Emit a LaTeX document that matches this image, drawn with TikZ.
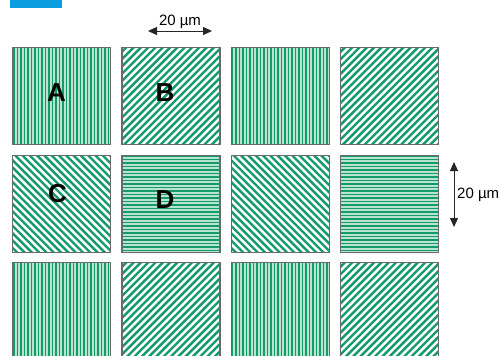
\documentclass[tikz,border=0pt]{standalone}
\usepackage{fontspec}
\setmainfont{Liberation Sans}
\usetikzlibrary{positioning,arrows.meta,calc}
\definecolor{barBlue}{HTML}{0A9EE0}
\definecolor{stripeGreen}{HTML}{139B6B}
\definecolor{paleGreen}{HTML}{B8E4CF}
\definecolor{edgeGray}{HTML}{6A6A6A}
\tikzset{
  tile/.style={rectangle, draw=edgeGray, line width=1.2pt, minimum width=98pt,
               minimum height=97pt, inner sep=0pt, anchor=north west},
  stripe/.style={draw=stripeGreen, line width=1.5pt},
  slant/.style={draw=stripeGreen, line width=2.4pt},
  vstripes/.style={tile, fill=paleGreen, path picture={
      \foreach \i in {1.5,5,...,100}
        \draw[stripe] ([xshift=\i pt]path picture bounding box.south west)
                   -- ([xshift=\i pt]path picture bounding box.north west);}},
  hstripes/.style={tile, fill=paleGreen, path picture={
      \foreach \i in {1.5,5,...,100}
        \draw[stripe] ([yshift=\i pt]path picture bounding box.south west)
                   -- ([yshift=\i pt]path picture bounding box.south east);}},
  nestripes/.style={tile, fill=white, path picture={
      \foreach \i in {-100,-92.7,...,100}
        \draw[slant] ([xshift=\i pt]path picture bounding box.south west)
                  -- ([xshift=\i pt+100pt,yshift=100pt]path picture bounding box.south west);}},
  nwstripes/.style={tile, fill=white, path picture={
      \foreach \i in {-100,-92.7,...,100}
        \draw[slant] ([xshift=\i pt]path picture bounding box.north west)
                  -- ([xshift=\i pt+100pt,yshift=-100pt]path picture bounding box.north west);}},
  letter/.style={font=\fontsize{26}{26}\selectfont\bfseries, inner sep=0pt},
  dim/.style={font=\fontsize{15}{15}\selectfont, inner sep=1pt},
  dimarrow/.style={{Triangle[length=9pt,width=8pt]}-{Triangle[length=9pt,width=8pt]},
                   line width=1pt, draw=black!85}
}
\begin{document}
\begin{tikzpicture}[x=1pt, y=-1pt]
\useasboundingbox (0,0) rectangle (501,356);
\fill[barBlue] (10,0) rectangle (62,7.5);

% tiles, three rows of four
\foreach \r/\pats in {1/{vstripes,nestripes,vstripes,nestripes},
                      2/{nwstripes,hstripes,nwstripes,hstripes},
                      3/{vstripes,nestripes,vstripes,nestripes}}
  \foreach \pat [count=\c] in \pats
    \node[\pat] (t\r\c) at ({12+109.3*(\c-1)}, {47+107.5*(\r-1)}) {};

\node[letter] (lA) at ([shift={(-5,-4)}]t11.center) {A};
\node[letter] (lB) at ([shift={(-6,-4)}]t12.center) {B};
\node[letter] (lC) at ([shift={(-4,-10)}]t21.center) {C};
\node[letter] (lD) at ([shift={(-6,-4)}]t22.center) {D};

% scale bars
\coordinate (hL) at (148,31);
\coordinate (hR) at (212,31);
\draw[dimarrow] (hL) -- (hR);
\node[dim, above=1pt] (hlabel) at ($(hL)!0.5!(hR)$) {20 µm};
\coordinate (vT) at (454,162);
\coordinate (vB) at (454,227);
\draw[dimarrow] (vT) -- (vB);
\node[dim, right=1pt] (vlabel) at (455,195) {20 µm};
\end{tikzpicture}
\end{document}
